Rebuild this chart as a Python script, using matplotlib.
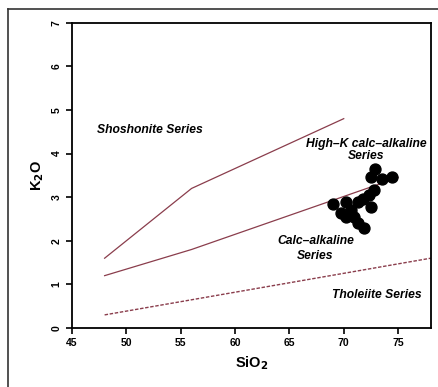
import matplotlib
matplotlib.use("Agg")
import matplotlib.pyplot as plt
from matplotlib.lines import Line2D

plt.rcParams['font.family'] = ['Liberation Sans', 'DejaVu Sans']

# Boundary lines (Peccerillo & Taylor style)
shosh_x = [48, 56, 70]
shosh_y = [1.6, 3.2, 4.8]
highk_x = [48, 56, 75]
highk_y = [1.2, 1.8, 3.45]
thol_x = [48, 78]
thol_y = [0.3, 1.6]

# Samples
sio2 = [72.89, 72.52, 73.53, 74.46, 72.82, 72.36, 71.75, 72.52, 71.29,
        70.21, 68.98, 69.75, 70.67, 70.21, 70.97, 71.29, 71.90]
k2o = [3.64, 3.47, 3.41, 3.46, 3.17, 3.05, 2.95, 2.78, 2.90,
       2.90, 2.84, 2.63, 2.71, 2.55, 2.55, 2.40, 2.29]

xticks = [45, 50, 55, 60, 65, 70, 75]
yticks = [0, 1, 2, 3, 4, 5, 6, 7]

fig = plt.figure(figsize=(4.38, 3.87), dpi=100)
ax = fig.add_axes([0.1644, 0.1525, 0.9833 - 0.1644, 0.9413 - 0.1525])

lc = '#8a3d4c'
ax.plot(shosh_x, shosh_y, color=lc, lw=0.9)
ax.plot(highk_x, highk_y, color=lc, lw=0.9)
ax.plot(thol_x, thol_y, color=lc, lw=1.0, ls=(0, (2.5, 1.2)))
ax.scatter(sio2, k2o, s=62, color='black', zorder=3)

ax.set_xlim(45, 78)
ax.set_ylim(0, 7)
ax.set_xticks(xticks)
ax.set_yticks(yticks)
ax.tick_params(direction='out', length=4, width=1.2, labelsize=7.5)
for lab in ax.get_xticklabels() + ax.get_yticklabels():
    lab.set_fontweight('bold')
for lab in ax.get_yticklabels():
    lab.set_rotation(90)
    lab.set_va('center')
for s in ax.spines.values():
    s.set_linewidth(1.3)

ax.set_xlabel('SiO$_\\mathbf{2}$', fontsize=10.5, fontweight='bold', labelpad=4)
ax.set_ylabel('K$_\\mathbf{2}$O', fontsize=10.5, fontweight='bold', labelpad=4)

tkw = dict(fontsize=8.7, fontweight='bold', style='italic', ha='center', va='center')
ax.text(52.2, 4.54, 'Shoshonite Series', **tkw)
ax.text(72.05, 4.08, 'High\u2013K calc\u2013alkaline\nSeries', linespacing=0.95, **tkw)
ax.text(67.4, 1.83, 'Calc\u2013alkaline\nSeries', linespacing=1.3, **tkw)
ax.text(73.0, 0.76, 'Tholeiite Series', **tkw)

# outer frame
fig.add_artist(Line2D([0.019, 0.019], [-0.01, 0.976], color='#333333', lw=1.2, transform=fig.transFigure))
fig.add_artist(Line2D([0.019, 1.01], [0.976, 0.976], color='#333333', lw=1.2, transform=fig.transFigure))

fig.savefig('out.png', dpi=100)
